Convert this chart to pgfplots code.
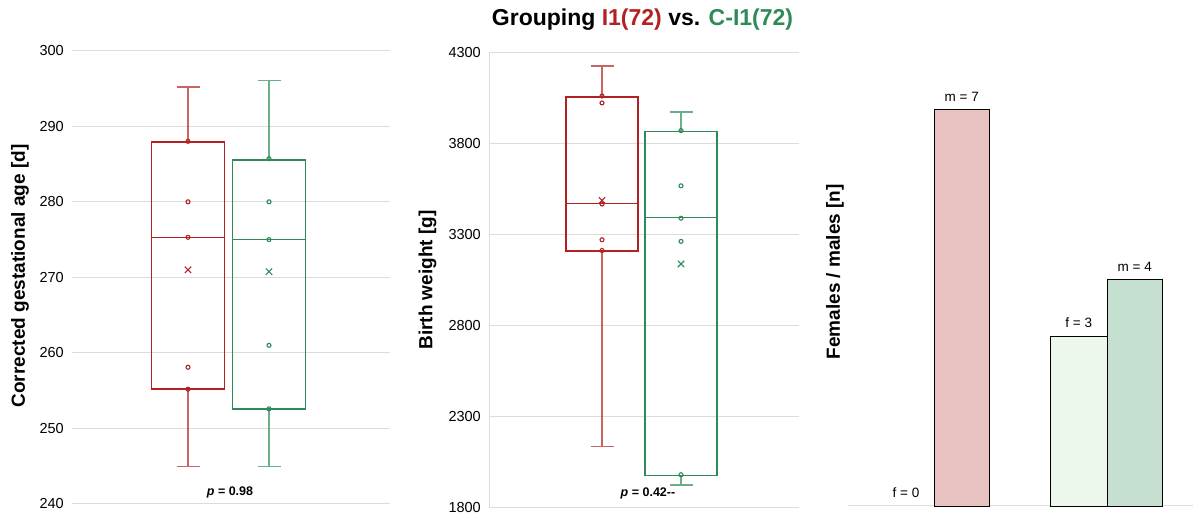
\documentclass[border=0pt]{standalone}
\usepackage{fontspec}
\setmainfont{Liberation Sans}
\usepackage{pgfplots}
\pgfplotsset{compat=1.18}
\usepgfplotslibrary{statistics}
\definecolor{cred}{HTML}{B22222}
\definecolor{cgreen}{HTML}{2E8B57}
\definecolor{gridc}{HTML}{DCDCDC}
\definecolor{fred}{HTML}{E8C1C1}
\definecolor{fgreenl}{HTML}{ECF8EC}
\definecolor{fgreen}{HTML}{C5E0D1}
\pgfplotsset{
  panel/.style={
    scale only axis, anchor=south west,
    axis line style={draw=none},
    ymajorgrids, grid style={gridc, line width=1pt},
    major tick length=0pt,
    xtick=\empty,
    tick label style={font=\fontsize{14.5}{17}\selectfont},
    /pgf/number format/assume math mode=true,
    /pgf/number format/set thousands separator={},
    yticklabel style={anchor=east, inner sep=0pt, xshift=-8pt},
    every axis y label/.style={rotate=90, anchor=center, font=\bfseries\fontsize{19}{22}\selectfont},
    clip=false,
    boxplot/draw direction=y,
    boxplot/every box/.style={line width=1.9pt},
    boxplot/every whisker/.style={line width=1.3pt, draw opacity=0.7},
    boxplot/every median/.style={line width=1.3pt},
  },
  pts/.style={only marks, mark=o, mark size=2pt, line width=1.1pt},
  avg/.style={only marks, mark=x, mark size=4.5pt, line width=1.1pt},
  barlab/.style={nodes near coords, point meta=explicit symbolic,
    every node near coord/.style={anchor=base, yshift=8pt, black, font=\fontsize{13.5}{16}\selectfont}},
}
\begin{document}
\begin{tikzpicture}
\path[use as bounding box] (0,0) rectangle (1195pt,525pt);
\node[font=\bfseries\fontsize{23}{27}\selectfont, anchor=base] at (642.5pt,499pt)
  {Grouping \textcolor{cred}{I1(72)} vs. \textcolor{cgreen}{C-I1(72)}};

% Panel 1
\begin{axis}[panel, at={(72pt,21pt)}, width=318pt, height=453.3pt,
  xmin=72, xmax=390, ymin=240, ymax=300, ytick={240,250,...,300},
  ylabel={Corrected gestational age [d]},
  every axis y label/.append style={at={(axis description cs:-0.1635,0.503)}}]
\addplot[cred, boxplot prepared={lower whisker=245, lower quartile=255.2, median=275.3,
  upper quartile=287.9, upper whisker=295.2, draw position=188, box extend=73, whisker extend=23}]
  coordinates {};
\addplot[cgreen, boxplot prepared={lower whisker=245, lower quartile=252.55, median=275.0,
  upper quartile=285.5, upper whisker=296.1, draw position=269, box extend=73, whisker extend=23}]
  coordinates {};
\addplot[cred, pts] coordinates {(188,288.0) (188,280.0) (188,275.3) (188,258.1) (188,255.2)};
\addplot[cgreen, pts] coordinates {(269,285.7) (269,280.0) (269,275.0) (269,261.0) (269,252.6)};
\addplot[cred, avg] coordinates {(188,271.0)};
\addplot[cgreen, avg] coordinates {(269,270.75)};
\node[font=\bfseries\fontsize{12.5}{15}\selectfont] at (axis cs:230,241.5) {\textit{p} = 0.98};
\end{axis}

% Panel 2
\begin{axis}[panel, at={(489pt,17.3pt)}, width=309.7pt, height=455.4pt,
  xmin=489, xmax=798.7, ymin=1800, ymax=4300, ytick={1800,2300,...,4300},
  ylabel={Birth weight [g]},
  every axis y label/.append style={at={(axis description cs:-0.1986,0.5)}}]
\draw[gridc, line width=1pt] (rel axis cs:0,0) -- (rel axis cs:0,1);
\addplot[cred, boxplot prepared={lower whisker=2136, lower quartile=3207, median=3470,
  upper quartile=4055, upper whisker=4225, draw position=602, box extend=72, whisker extend=23}]
  coordinates {};
\addplot[cgreen, boxplot prepared={lower whisker=1924, lower quartile=1977, median=3395,
  upper quartile=3865, upper whisker=3973, draw position=681, box extend=72, whisker extend=23}]
  coordinates {};
\addplot[cred, pts] coordinates {(602,4060) (602,4022) (602,3467) (602,3271) (602,3212)};
\addplot[cgreen, pts] coordinates {(681,3870) (681,3567) (681,3389) (681,3262) (681,1981)};
\addplot[cred, avg] coordinates {(602,3487)};
\addplot[cgreen, avg] coordinates {(681,3138)};
\node[font=\bfseries\fontsize{12.5}{15}\selectfont] at (axis cs:648,1880) {\textit{p} = 0.42-{}-};
\end{axis}

% Panel 3
\begin{axis}[panel, at={(848pt,19pt)}, width=344.7pt, height=453.6pt,
  xmin=848, xmax=1192.7, ymin=0, ymax=8, ytick=\empty, ymajorgrids=false,
  ylabel={Females / males [n]},
  every axis y label/.append style={at={(axis description cs:-0.0377,0.5165)}}]
\draw[gridc, line width=1pt] (rel axis cs:0,0) -- (rel axis cs:1,0);
\addplot[ybar, bar width=55.5, bar shift=0pt, draw=none, fill=none, barlab]
  coordinates {(906,0) [f = 0]};
\addplot[ybar, bar width=55.5, bar shift=0pt, fill=fred, draw=black, line width=0.8pt, barlab]
  coordinates {(961.7,7) [m = 7]};
\addplot[ybar, bar width=56.5, bar shift=0pt, fill=fgreenl, draw=black, line width=0.8pt, barlab]
  coordinates {(1078.7,3) [f = 3]};
\addplot[ybar, bar width=55.5, bar shift=0pt, fill=fgreen, draw=black, line width=0.8pt, barlab]
  coordinates {(1134.7,4) [m = 4]};
\end{axis}
\end{tikzpicture}
\end{document}
